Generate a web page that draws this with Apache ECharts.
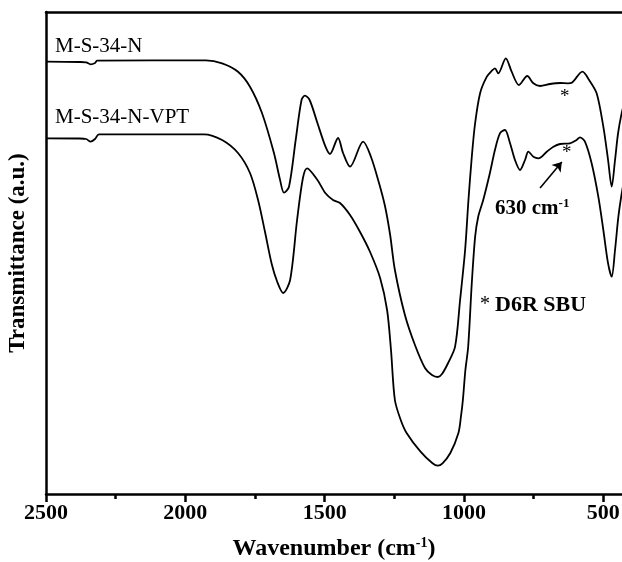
<!DOCTYPE html>
<html><head><meta charset="utf-8">
<script src="https://cdn.jsdelivr.net/npm/echarts@6/dist/echarts.min.js"></script>
<style>html,body{margin:0;padding:0;background:#fff}#c{width:622px;height:562px}</style>
</head><body><div id="c"></div>
<script>
// Wavenumber (cm-1) and transmittance (a.u.) for each spectrum
const wnA = [2500,2380,2356,2340,2324,2317,1926,1868,1811,1768,1725,1682,1660,1646,1628,1604,1583,1571,1554,1526,1497,1481,1452,1434,1409,1362,1334,1305,1283,1265,1248,1212,1176,1140,1115,1094,1079,1057,1032,1014,996,984,972,960,942,918,900,889,877,850,829,803,773,751,727,691,655,627,613,575,551,524,500,483,470,458,447,434,422];
const tA  = [432.3,432,431.7,429.7,431,433.3,433.7,430.7,422.3,407.3,381,341,314,301.3,307.3,354,394,398.3,394,371,347.3,340,356,341,327.3,352.3,337.3,311,287.3,259,224,179,149,126,119,117,120,131,147.3,194,244,294,337.3,371,401,417.3,423.3,425.7,420.7,435.7,422.3,409,418,410.7,408,410,411,410.7,411.3,422.3,414,400.7,367.3,334,307.3,334,361,381,394];
const wnB = [2500,2382,2356,2340,2324,2310,1933,1868,1811,1768,1739,1714,1690,1670,1649,1624,1599,1578,1563,1526,1497,1470,1445,1409,1373,1337,1301,1276,1262,1248,1227,1206,1156,1113,1094,1077,1049,1020,1011,1004,995,985,972,960,949,931,907,889,871,853,835,817,799,781,769,751,733,703,679,655,620,596,584,566,542,518,500,483,470,458,446,434,422];
const tB  = [355.7,355.5,355,352.3,355,359.7,359.7,354,341,321,294,262,230,212,201,214,274,316,325.7,314,300.7,294,291,279,262,242,216,184,144,94,74,61,42.3,30.7,28.3,30.7,41,61,77.3,94,124,147.3,211,257.3,277.3,294,321,344,360.7,364,351,334,324,334,342.3,337.3,335.7,342.3,347.3,350,350.7,354,356.7,352.3,330.7,297.3,264,230.7,217.3,244,277.3,300.7,319];
const seriesNames = ['M-S-34-N','M-S-34-N-VPT'];
const majorTicks = [2500,2000,1500,1000,500];
const minorTicks = [2250,1750,1250,750];
const arrowFrom = [727,306], arrowTo = [649,332];

const chart = echarts.init(document.getElementById('c'), null, {renderer:'canvas'});
const F = 'Liberation Serif, Times New Roman, serif';
const zip = (a,b)=>a.map((x,i)=>[x,b[i]]);
const xmin = 433, xmax = 2500;
chart.setOption({
  animation:false,
  backgroundColor:'#fff',
  grid:{left:46,right:0,top:12,bottom:68,containLabel:false,outerBoundsMode:'none'},
  xAxis:[
    {type:'value',position:'bottom',inverse:true,min:xmin,max:xmax,
     axisLine:{show:true,onZero:false,lineStyle:{color:'#000',width:2.5}},
     axisTick:{show:true,customValues:majorTicks,length:8,inside:false,lineStyle:{color:'#000',width:2.5}},
     axisLabel:{show:true,customValues:majorTicks,formatter:v=>String(v),color:'#000',fontFamily:F,fontWeight:'bold',fontSize:22,margin:8},
     splitLine:{show:false},
     name:'Wavenumber (cm{s|-1})',nameLocation:'middle',nameGap:42,
     nameTextStyle:{color:'#000',fontFamily:F,fontWeight:'bold',fontSize:24,
       rich:{s:{fontFamily:F,fontWeight:'bold',fontSize:14,verticalAlign:'top',padding:[0,0,12,0],color:'#000'}}}},
    {type:'value',position:'bottom',inverse:true,min:xmin,max:xmax,
     axisLine:{show:false},
     axisTick:{show:true,customValues:minorTicks,length:5,lineStyle:{color:'#000',width:2.5}},
     axisLabel:{show:false},splitLine:{show:false}},
    {type:'value',position:'top',inverse:true,min:xmin,max:xmax,
     axisLine:{show:true,lineStyle:{color:'#000',width:2.5}},
     axisTick:{show:false},axisLabel:{show:false},splitLine:{show:false}}
  ],
  yAxis:{type:'value',min:0,max:482,
    axisLine:{show:true,onZero:false,lineStyle:{color:'#000',width:2.5}},
    axisTick:{show:false},axisLabel:{show:false},splitLine:{show:false},
    name:'Transmittance (a.u.)',nameLocation:'middle',nameGap:16,
    nameTextStyle:{color:'#000',fontFamily:F,fontWeight:'bold',fontSize:23}},
  series:[
    {name:seriesNames[0],type:'line',data:zip(wnA,tA),showSymbol:false,smooth:0.3,
     lineStyle:{color:'#000',width:1.8},clip:true},
    {name:seriesNames[1],type:'line',data:zip(wnB,tB),showSymbol:false,smooth:0.3,
     lineStyle:{color:'#000',width:1.8},clip:true,
     markLine:{silent:true,symbol:['none','arrow'],symbolSize:9,label:{show:false},
       lineStyle:{color:'#000',width:1.6,type:'solid'},
       data:[[{coord:arrowFrom},{coord:arrowTo}]]}}
  ],
  graphic:[
    {type:'text',left:55,top:36,style:{text:seriesNames[0],font:'21px '+F,fill:'#000'}},
    {type:'text',left:55,top:107,style:{text:seriesNames[1],font:'21px '+F,fill:'#000'}},
    {type:'text',left:560,top:88,style:{text:'*',font:'19px '+F,fill:'#000'}},
    {type:'text',left:562,top:144,style:{text:'*',font:'19px '+F,fill:'#000'}},
    {type:'text',left:495,top:197,style:{rich:{b:{font:'bold 21px '+F,fill:'#000'},s:{font:'bold 13px '+F,fill:'#000',verticalAlign:'top',padding:[0,0,10,0]}},text:'{b|630 cm}{s|-1}'}},
    {type:'text',left:480,top:294,style:{rich:{a:{font:'20px '+F,fill:'#000'},b:{font:'bold 22px '+F,fill:'#000'}},text:'{a|* }{b|D6R SBU}'}}
  ]
});
</script></body></html>
